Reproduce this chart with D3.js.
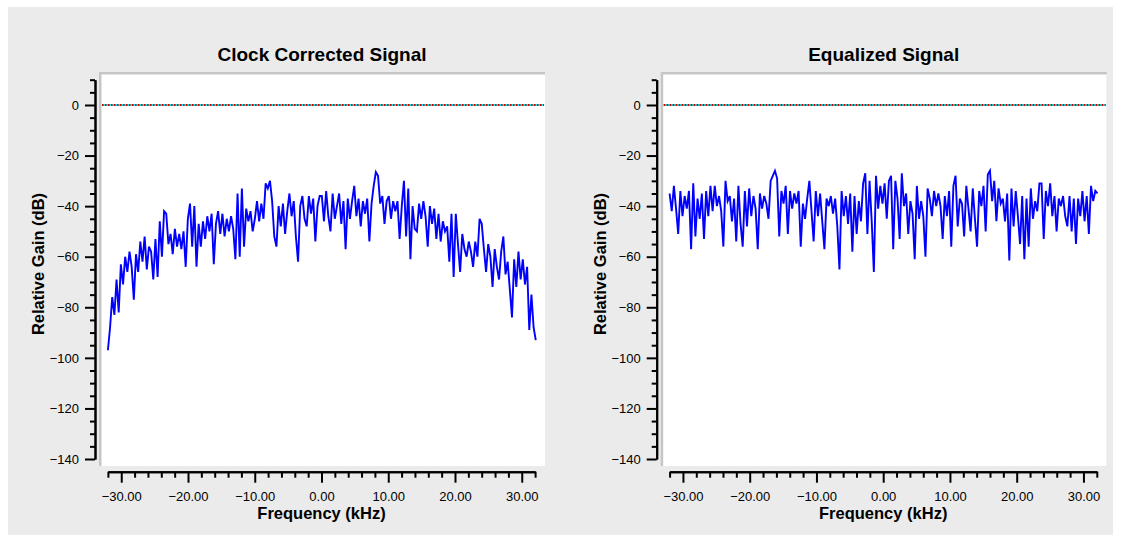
<!DOCTYPE html>
<html>
<head>
<meta charset="utf-8">
<script src="https://cdn.jsdelivr.net/npm/d3@7"></script>
<style>
  body { margin: 0; background: #ffffff; }
  svg { display: block; font-family: "Liberation Sans", Arial, sans-serif; }
</style>
</head>
<body>
<script>
// Spectrum samples (dB), evenly spaced from -32 to +32 kHz
const clockCorrected = [
  -97, -88, -76, -83, -69, -82, -63, -71, -60, -66, -58, -64, -77, -59, -66, -54, -62, -52, -65, -56,
  -58, -69, -53, -68, -46, -60, -42, -43, -55, -51, -59, -49, -56, -51, -57, -50, -64, -45, -39, -56,
  -40, -64, -47, -56, -46, -53, -44, -50, -43, -63, -47, -42, -51, -43, -52, -45, -50, -44, -49, -61,
  -35, -60, -33, -56, -41, -46, -42, -50, -45, -38, -46, -39, -45, -31, -33, -30, -38, -52, -56, -40,
  -48, -39, -51, -42, -35, -44, -38, -52, -62, -40, -36, -45, -48, -36, -43, -37, -54, -40, -36,
  -36, -46, -34, -44, -50, -35, -45, -40, -35, -47, -38, -57, -37, -45, -38, -32, -44, -37, -48, -38,
  -43, -37, -54, -39, -32, -26.5, -28, -39, -36, -47, -38, -36, -45, -38, -42, -38, -53, -40, -30, -52,
  -33, -61, -40, -49, -50, -39, -45, -38, -44, -56, -40, -47, -41, -53, -43, -54, -46, -50, -48, -62,
  -43, -68, -43, -55, -66, -51, -57, -60, -54, -58, -64, -54, -60, -45, -47, -57, -66, -55, -60, -72,
  -57, -64, -69, -58, -52, -67, -62, -73, -84, -61, -72, -58, -69, -61, -71, -64, -89, -75, -88, -93
];

const equalized = [
  -35, -42, -32, -41, -51, -34, -44, -36, -41, -34, -57, -31, -52, -37, -45, -35, -53, -34, -44, -32,
  -42, -32, -40, -36, -42, -56, -30, -38, -36, -46, -37, -54, -32, -47, -56, -34, -48, -33, -44, -36,
  -41, -57, -35, -41, -36, -39, -45, -30, -28, -26, -29, -52, -34, -39, -32, -51, -34, -41, -35, -39,
  -34, -56, -39, -45, -37, -30, -42, -54, -34, -44, -35, -46, -57, -37, -40, -36, -43, -37, -48, -65,
  -34, -44, -36, -47, -35, -58, -36, -51, -38, -46, -31, -27, -51, -30, -46, -66, -28, -41, -32, -39,
  -31, -45, -30, -28, -57, -30, -37, -53, -27, -40, -35, -51, -38, -43, -61, -32, -45, -38, -44, -60,
  -33, -37, -44, -34, -40, -35, -40, -53, -36, -44, -34, -56, -32, -28, -48, -37, -39, -52, -32, -41,
  -50, -33, -45, -56, -34, -40, -32, -50, -27.5, -26, -38, -30, -46, -33, -39, -37, -46, -35, -61.5, -33,
  -48, -34, -44, -55, -36, -61, -37, -56, -33, -45, -38, -42, -31, -31, -53, -34, -40, -31, -44, -36,
  -50, -37, -40, -36, -44, -48, -36, -50, -37, -55, -37, -44, -34, -46, -36, -51, -32, -38, -34, -35
];

const panelTitles = ["Clock Corrected Signal", "Equalized Signal"];
const xTickMajor = [-30, -20, -10, 0, 10, 20, 30];
const yTickMajor = [0, -20, -40, -60, -80, -100, -120, -140];
const freqStart = -32;
const freqEnd = 32.1;

const W = 1121, H = 542;

const svg = d3.select("body").append("svg")
  .attr("width", W)
  .attr("height", H);

// light gray backdrop
svg.append("rect")
  .attr("x", 8).attr("y", 7)
  .attr("width", 1105).attr("height", 528)
  .attr("fill", "#ebebeb");

function drawPanel(dx, title, values) {
  const g = svg.append("g").attr("transform", "translate(" + dx + ",0)");

  // plot frame: gray edge on top and left, white inside
  g.append("rect")
    .attr("x", 99).attr("y", 72)
    .attr("width", 446).attr("height", 394)
    .attr("fill", "#c6c6c6");
  g.append("rect")
    .attr("x", 101.5).attr("y", 74.5)
    .attr("width", 443.5).attr("height", 391.5)
    .attr("fill", "#ffffff");

  const x = d3.scaleLinear().domain([-32, 32]).range([107.9, 535.1]);
  const y = d3.scaleLinear().domain([-140, 10]).range([459, 79.7]);
  const bin = d3.scaleLinear().domain([0, values.length - 1]).range([freqStart, freqEnd]);

  // zero reference: cyan + red dotted
  g.append("line")
    .attr("x1", 102).attr("x2", 544)
    .attr("y1", y(0)).attr("y2", y(0))
    .attr("stroke", "#00f0f0")
    .attr("stroke-width", 1.8);
  g.append("line")
    .attr("x1", 102).attr("x2", 544)
    .attr("y1", y(0)).attr("y2", y(0))
    .attr("stroke", "#c80000")
    .attr("stroke-width", 1.8)
    .attr("stroke-dasharray", "1.5,1.5");

  // spectrum
  const line = d3.line()
    .x((d, i) => x(bin(i)))
    .y((d) => y(d));

  g.append("path")
    .datum(values)
    .attr("d", line)
    .attr("fill", "none")
    .attr("stroke", "#0000ff")
    .attr("stroke-width", 1.9)
    .attr("stroke-linejoin", "miter");

  // y axis (minor then major)
  const yMinor = d3.range(10, -141, -5).filter((v) => v % 20 !== 0);
  const yAxisMinor = g.append("g")
    .attr("transform", "translate(95,0)")
    .call(d3.axisLeft(y).tickValues(yMinor).tickSize(5).tickSizeOuter(0).tickFormat(""));
  const yAxisMajor = g.append("g")
    .attr("transform", "translate(95,0)")
    .call(d3.axisLeft(y).tickValues(yTickMajor).tickSize(10).tickSizeOuter(0).tickPadding(6).tickFormat(d3.format("d")));

  // x axis (minor then major)
  const xMinor = d3.range(-32, 33, 2).filter((v) => v % 10 !== 0);
  const xAxisMinor = g.append("g")
    .attr("transform", "translate(0,471.7)")
    .call(d3.axisBottom(x).tickValues(xMinor).tickSize(6).tickSizeOuter(0).tickFormat(""));
  const xAxisMajor = g.append("g")
    .attr("transform", "translate(0,471.7)")
    .call(d3.axisBottom(x).tickValues(xTickMajor).tickSize(11).tickSizeOuter(0).tickPadding(9).tickFormat(d3.format(".2f")));

  [yAxisMinor, yAxisMajor, xAxisMinor, xAxisMajor].forEach((a) => {
    a.selectAll("path, line").attr("stroke", "#000").attr("stroke-width", 2);
    a.selectAll("text").attr("fill", "#000").style("font-size", "13px");
  });

  // titles
  g.append("text")
    .attr("x", 322).attr("y", 61)
    .attr("text-anchor", "middle")
    .style("font-size", "19px")
    .style("font-weight", "bold")
    .text(title);

  g.append("text")
    .attr("x", 321.5).attr("y", 519)
    .attr("text-anchor", "middle")
    .style("font-size", "16.5px")
    .style("font-weight", "bold")
    .text("Frequency (kHz)");

  g.append("text")
    .attr("transform", "translate(44,264) rotate(-90)")
    .attr("text-anchor", "middle")
    .style("font-size", "16.5px")
    .style("font-weight", "bold")
    .text("Relative Gain (dB)");
}

drawPanel(0, panelTitles[0], clockCorrected);
drawPanel(561.7, panelTitles[1], equalized);
</script>
</body>
</html>
